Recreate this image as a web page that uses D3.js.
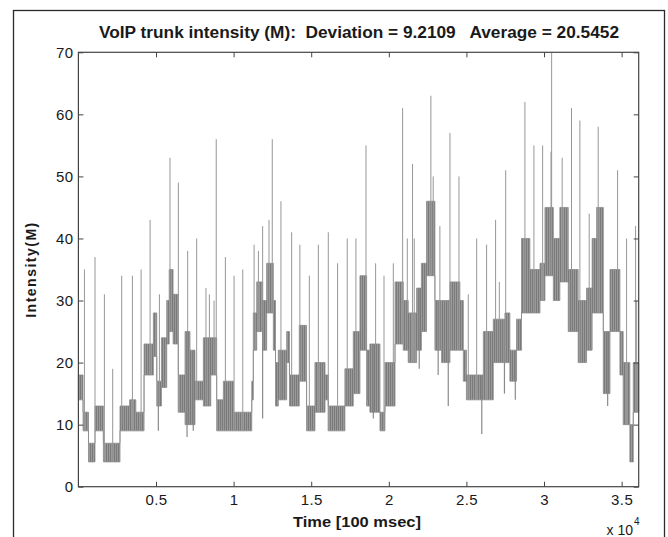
<!DOCTYPE html>
<html>
<head>
<meta charset="utf-8">
<script src="https://cdn.jsdelivr.net/npm/d3@7"></script>
<style>
  body { margin: 0; background: #fff; }
  text { font-family: Arial, "Liberation Sans", Helvetica, sans-serif; fill: #1a1a1a; }
</style>
</head>
<body>
<script>
// Trace: the trunk intensity flickers inside a band
// (low..high) for a stretch, with short spikes up and dips down.
const bandT = [0, 300, 650, 1070, 1610, 2680, 3300, 3700, 4230, 4830,
    5050, 5350, 5690, 5850, 6100, 6440, 6870, 7190, 7510, 8050,
    8530, 8910, 9340, 9990, 11170, 11270, 11490, 11870, 12130, 12560,
    12700, 12880, 13420, 13600, 14230, 14700, 15240, 15890, 16100, 17170,
    17710, 18140, 18570, 18780, 19430, 19750, 20400, 20930, 21250, 21790,
    22100, 22430, 22970, 23400, 23940, 24580, 24800, 25000, 25660, 26090,
    26730, 27480, 27800, 28230, 28550, 29090, 29740, 30060, 30600, 31020,
    31560, 32200, 32740, 33100, 33390, 33820, 34250, 34890, 35100, 35530,
    35750];
const bandLo = [14, 9, 4, 9, 4, 9, 9, 9, 18, 21,
    13, 16, 23, 25, 23, 12, 10, 10, 14, 13,
    18, 9, 9, 9, 14, 22, 25, 22, 28, 22,
    13, 14, 20, 13, 17, 9, 12, 14, 9, 13,
    15, 22, 13, 12, 9, 13, 23, 22, 20, 22,
    25, 34, 22, 20, 22, 22, 17, 14, 14, 14,
    20, 20, 17, 22, 28, 28, 30, 34, 30, 33,
    25, 20, 22, 28, 28, 15, 25, 18, 10, 4,
    12];
const bandHi = [18, 12, 7, 13, 7, 13, 14, 12, 23, 28,
    17, 24, 30, 35, 31, 18, 25, 22, 17, 24,
    24, 14, 17, 12, 17, 28, 33, 30, 36, 30,
    20, 22, 25, 18, 26, 13, 20, 18, 13, 19,
    25, 34, 22, 23, 12, 20, 33, 30, 28, 32,
    36, 46, 30, 30, 33, 30, 22, 18, 18, 25,
    27, 28, 22, 27, 40, 35, 36, 45, 40, 45,
    35, 30, 32, 40, 45, 25, 35, 25, 20, 10,
    20];
const tEnd = 36100;

const spikeT = [390, 1070, 1675, 2210, 2790, 3480, 4040, 4620, 5220, 5900,
    6440, 7040, 7620, 8220, 8440, 8740, 8880, 9470, 10030, 10590,
    11320, 11600, 11870, 12280, 12490, 13050, 13740, 14270, 14880, 15460,
    16100, 16700, 17320, 17880, 18530, 19150, 19690, 20290, 20890, 21190,
    21530, 21640, 22710, 22860, 23290, 23940, 24520, 25120, 25660, 26300,
    26880, 27120, 27530, 28770, 29350, 29910, 30450, 30490, 31170, 31770,
    32310, 32910, 33490, 34740, 35320, 35900, 35970];
const spikeV = [35, 37, 31, 19, 34, 34, 35, 43, 31, 53,
    49, 38, 40, 32, 31, 30, 56, 37, 34, 35,
    39, 38, 42, 43, 56, 46, 41, 39, 34, 39,
    41, 36, 40, 40, 55, 36, 34, 36, 61, 40,
    52, 40, 63, 50, 42, 57, 50, 31, 40, 39,
    43, 33, 51, 62, 55, 55, 54, 70, 53, 61,
    59, 44, 58, 51, 40, 42, 30];

const dipT = [5150, 7000, 7400, 11870, 13050, 18630, 19000, 21960, 23180, 23830, 25990, 27450, 28150, 34100];
const dipV = [9, 8, 9, 11, 14, 14, 11, 19, 18, 13, 8.5, 15, 14, 13];

const xTicks = [5000, 10000, 15000, 20000, 25000, 30000, 35000];
const xTickLabels = ["0.5", "1", "1.5", "2", "2.5", "3", "3.5"];
const yTicks = [0, 10, 20, 30, 40, 50, 60, 70];

const titleText = "VoIP trunk intensity (M):  Deviation = 9.2109   Average = 20.5452";

// Layout
const width = 668, height = 537;
const margin = {top: 52.3, right: 29.3, bottom: 50.3, left: 78.4};

const x = d3.scaleLinear().domain([0, tEnd]).range([margin.left, width - margin.right]);
const y = d3.scaleLinear().domain([0, 70]).range([height - margin.bottom, margin.top]);

const svg = d3.select("body").append("svg")
    .attr("width", width)
    .attr("height", height);

// fine vertical hatch, stands in for the fast up/down switching of the trace
const pat = svg.append("defs").append("pattern")
    .attr("id", "flicker")
    .attr("patternUnits", "userSpaceOnUse")
    .attr("width", 2).attr("height", 4);
pat.append("rect").attr("width", 2).attr("height", 4).attr("fill", "#9a9a9a");
pat.append("rect").attr("width", 1).attr("height", 4).attr("fill", "#7a7a7a");

svg.append("rect")
    .attr("width", width).attr("height", height)
    .attr("fill", "#fff");

// outer figure border (runs off the bottom of the picture)
svg.append("rect")
    .attr("x", 13.5).attr("y", 10.5)
    .attr("width", 651).attr("height", 600)
    .attr("fill", "none")
    .attr("stroke", "#2a2a2a")
    .attr("stroke-width", 1.3);

const plot = svg.append("g");

// band of fast switching
const band = bandT.map((t, i) => ({t: t, lo: bandLo[i], hi: bandHi[i]}));
band.push({t: tEnd, lo: bandLo[bandLo.length - 1], hi: bandHi[bandHi.length - 1]});

const area = d3.area()
    .curve(d3.curveStepAfter)
    .x(d => x(d.t))
    .y0(d => y(d.lo))
    .y1(d => y(d.hi));

plot.append("path")
    .datum(band)
    .attr("d", area)
    .attr("fill", "url(#flicker)")
    .attr("stroke", "#8a8a8a")
    .attr("stroke-width", 0.8);

function bandAt(t) {
    const i = Math.max(0, d3.bisectRight(bandT, t) - 1);
    return {lo: bandLo[i], hi: bandHi[i]};
}

// spikes up
plot.selectAll("line.spike")
    .data(spikeT)
    .join("line")
    .attr("class", "spike")
    .attr("x1", d => x(d)).attr("x2", d => x(d))
    .attr("y1", d => y(bandAt(d).lo))
    .attr("y2", (d, i) => y(spikeV[i]))
    .attr("stroke", "#979797")
    .attr("stroke-width", 1);

// dips down
plot.selectAll("line.dip")
    .data(dipT)
    .join("line")
    .attr("class", "dip")
    .attr("x1", d => x(d)).attr("x2", d => x(d))
    .attr("y1", d => y(bandAt(d).hi))
    .attr("y2", (d, i) => y(dipV[i]))
    .attr("stroke", "#8a8a8a")
    .attr("stroke-width", 1.2);

// axes, ticks pointing inward on all four sides
const tickLen = 5;
const axisStyle = g => {
    g.select(".domain").remove();
    g.selectAll(".tick line").attr("stroke", "#444");
    g.selectAll(".tick text")
        .style("font-size", "15px")
        .style("letter-spacing", "0.4px")
        .style("fill", "#1a1a1a");
};

svg.append("g")
    .attr("transform", `translate(0,${height - margin.bottom})`)
    .call(d3.axisBottom(x).tickValues(xTicks)
        .tickFormat((d, i) => xTickLabels[i])
        .tickSizeInner(-tickLen).tickSizeOuter(0).tickPadding(8))
    .call(axisStyle);

svg.append("g")
    .attr("transform", `translate(0,${margin.top})`)
    .call(d3.axisTop(x).tickValues(xTicks).tickFormat("")
        .tickSizeInner(-tickLen).tickSizeOuter(0))
    .call(axisStyle);

svg.append("g")
    .attr("transform", `translate(${margin.left},0)`)
    .call(d3.axisLeft(y).tickValues(yTicks)
        .tickSizeInner(-tickLen).tickSizeOuter(0).tickPadding(5))
    .call(axisStyle);

svg.append("g")
    .attr("transform", `translate(${width - margin.right},0)`)
    .call(d3.axisRight(y).tickValues(yTicks).tickFormat("")
        .tickSizeInner(-tickLen).tickSizeOuter(0))
    .call(axisStyle);

// plot frame
svg.append("rect")
    .attr("x", margin.left).attr("y", margin.top)
    .attr("width", width - margin.left - margin.right)
    .attr("height", height - margin.top - margin.bottom)
    .attr("fill", "none")
    .attr("stroke", "#444")
    .attr("stroke-width", 1.2);

// title and labels
svg.append("text")
    .attr("x", 359)
    .attr("y", 38)
    .attr("text-anchor", "middle")
    .attr("textLength", 520)
    .attr("lengthAdjust", "spacingAndGlyphs")
    .style("font-size", "16px")
    .style("font-weight", "bold")
    .style("white-space", "pre")
    .text(titleText);

svg.append("text")
    .attr("transform", `translate(36,${(margin.top + height - margin.bottom) / 2}) rotate(-90)`)
    .attr("text-anchor", "middle")
    .style("font-size", "14px")
    .style("font-weight", "bold")
    .style("letter-spacing", "1.5px")
    .text("Intensity(M)");

svg.append("text")
    .attr("x", 357)
    .attr("y", 527)
    .attr("text-anchor", "middle")
    .attr("textLength", 128)
    .attr("lengthAdjust", "spacingAndGlyphs")
    .style("font-size", "15px")
    .style("font-weight", "bold")
    .text("Time [100 msec]");

svg.append("text")
    .attr("x", 633)
    .attr("y", 535)
    .attr("text-anchor", "end")
    .style("font-size", "14px")
    .text("x 10");
svg.append("text")
    .attr("x", 634)
    .attr("y", 525)
    .style("font-size", "10px")
    .text("4");
</script>
</body>
</html>
